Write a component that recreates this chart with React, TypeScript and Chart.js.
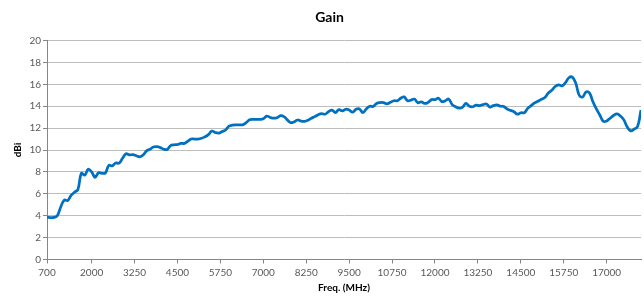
import React, { useEffect, useRef } from "react";
import { Chart, registerables } from "chart.js";

Chart.register(...registerables);

const TITLE = "Gain";
const X_TITLE = "Freq. (MHz)";
const Y_TITLE = "dBi";

const X_TICKS = [700, 2000, 3250, 4500, 5750, 7000, 8250, 9500, 10750, 12000, 13250, 14500, 15750, 17000];
const Y_MIN = 0;
const Y_MAX = 20;
const Y_STEP = 2;

const FREQS = [
  700, 800, 900, 1000, 1100, 1200, 1300, 1400, 1500, 1600,
  1700, 1800, 1900, 2000, 2100, 2200, 2300, 2400, 2500, 2600,
  2700, 2800, 2900, 3000, 3100, 3200, 3300, 3400, 3500, 3600,
  3700, 3800, 3900, 4000, 4100, 4200, 4300, 4400, 4500, 4600,
  4700, 4800, 4900, 5000, 5100, 5200, 5300, 5400, 5500, 5600,
  5700, 5800, 5900, 6000, 6100, 6200, 6300, 6400, 6500, 6600,
  6700, 6800, 6900, 7000, 7100, 7200, 7300, 7400, 7500, 7600,
  7700, 7800, 7900, 8000, 8100, 8200, 8300, 8400, 8500, 8600,
  8700, 8800, 8900, 9000, 9100, 9200, 9300, 9400, 9500, 9600,
  9700, 9800, 9900, 10000, 10100, 10200, 10300, 10400, 10500, 10600,
  10700, 10800, 10900, 11000, 11100, 11200, 11300, 11400, 11500, 11600,
  11700, 11800, 11900, 12000, 12100, 12200, 12300, 12400, 12500, 12600,
  12700, 12800, 12900, 13000, 13100, 13200, 13300, 13400, 13500, 13600,
  13700, 13800, 13900, 14000, 14100, 14200, 14300, 14400, 14500, 14600,
  14700, 14800, 14900, 15000, 15100, 15200, 15300, 15400, 15500, 15600,
  15700, 15800, 15900, 16000, 16100, 16200, 16300, 16400, 16500, 16600,
  16700, 16800, 16900, 17000, 17100, 17200, 17300, 17400, 17500, 17600,
  17700, 17800, 17900, 18000,
];

const GAIN = [
  3.85, 3.83, 3.84, 4.0, 4.8, 5.42, 5.38, 5.85, 6.14, 6.4,
  7.87, 7.7, 8.25, 8.0, 7.5, 7.92, 7.87, 7.9, 8.6, 8.55,
  8.82, 8.8, 9.25, 9.65, 9.55, 9.58, 9.48, 9.38, 9.55, 9.92,
  10.07, 10.27, 10.3, 10.22, 10.07, 10.05, 10.4, 10.47, 10.5, 10.6,
  10.6, 10.8, 11.0, 11.0, 11.0, 11.07, 11.2, 11.4, 11.73, 11.6,
  11.55, 11.68, 11.83, 12.17, 12.27, 12.3, 12.3, 12.3, 12.5, 12.76,
  12.8, 12.8, 12.8, 12.85, 13.1, 12.97, 12.9, 12.95, 13.13, 13.05,
  12.75, 12.5, 12.58, 12.74, 12.64, 12.62, 12.72, 12.9, 13.05, 13.22,
  13.33, 13.27, 13.5, 13.65, 13.42, 13.68, 13.58, 13.72, 13.65, 13.45,
  13.72, 13.75, 13.42, 13.75, 14.0, 13.97, 14.25, 14.33, 14.33, 14.22,
  14.35, 14.5, 14.5, 14.72, 14.85, 14.5, 14.55, 14.65, 14.32, 14.4,
  14.25, 14.35, 14.6, 14.6, 14.73, 14.42, 14.5, 14.65, 14.15, 13.95,
  13.82, 13.9, 14.25, 14.0, 13.95, 14.1, 14.05, 14.15, 14.2, 13.92,
  14.05, 14.12, 14.0, 13.98, 13.75, 13.62, 13.5, 13.27, 13.4, 13.4,
  13.8, 14.05, 14.3, 14.45, 14.63, 14.8, 15.2, 15.45, 15.8, 15.95,
  15.85, 16.15, 16.6, 16.65, 16.1, 15.0, 14.85, 15.3, 15.2, 14.4,
  13.75, 13.2, 12.62, 12.65, 12.9, 13.15, 13.3, 13.1, 12.75, 12.1,
  11.75, 11.9, 12.15, 13.65,
];

const FONT = "Lato, 'Liberation Sans', sans-serif";

export default function App() {
  const ref = useRef<HTMLCanvasElement>(null);

  useEffect(() => {
    if (!ref.current) return;
    const chart = new Chart(ref.current, {
      type: "line",
      data: {
        datasets: [
          {
            data: FREQS.map((f, i) => ({ x: f, y: GAIN[i] })),
            borderColor: "#0070C0",
            backgroundColor: "#0070C0",
            borderWidth: 2.75,
            pointRadius: 0,
            tension: 0.4,
            fill: false,
          },
        ],
      },
      options: {
        responsive: false,
        animation: false,
        layout: { padding: { left: 18, right: 3, top: 0, bottom: 0 } },
        plugins: {
          legend: { display: false },
          tooltip: { enabled: false },
          title: {
            display: true,
            text: TITLE,
            color: "#000000",
            font: { family: FONT, size: 14, weight: "bold" },
            padding: { top: 8.6, bottom: 15.1 },
          },
        },
        scales: {
          x: {
            type: "linear",
            min: 700,
            max: 18000,
            afterBuildTicks: (scale: any) => {
              scale.ticks = X_TICKS.map((v) => ({ value: v }));
            },
            afterFit: (scale: any) => {
              scale.height = 38.5;
            },
            ticks: {
              autoSkip: false,
              maxRotation: 0,
              color: "#595959",
              font: { family: FONT, size: 10 },
              padding: 3,
              callback: (v: any) => String(v),
            },
            grid: {
              drawOnChartArea: false,
              tickLength: 4,
              color: "#868686",
            },
            border: { color: "#868686" },
            title: {
              display: true,
              text: X_TITLE,
              color: "#000000",
              font: { family: FONT, size: 10, weight: "bold" },
              padding: { top: 2, bottom: 4 },
            },
          },
          y: {
            min: Y_MIN,
            max: Y_MAX,
            afterFit: (scale: any) => {
              scale.width = 29;
            },
            ticks: {
              stepSize: Y_STEP,
              color: "#595959",
              font: { family: FONT, size: 10 },
              padding: 2,
            },
            grid: {
              color: "#bdbdbd",
              tickLength: 4,
              tickColor: "#868686",
            },
            border: { color: "#868686" },
            title: {
              display: true,
              text: Y_TITLE,
              color: "#000000",
              font: { family: FONT, size: 10, weight: "bold" },
              padding: { top: -6, bottom: 0 },
            },
          },
        },
      },
    });
    return () => chart.destroy();
  }, []);

  return (
    <div style={{ position: "fixed", left: 0, top: 0, width: 644, height: 298, background: "#ffffff" }}>
      <canvas ref={ref} width={644} height={298} style={{ width: 644, height: 298, display: "block" }} />
    </div>
  );
}
